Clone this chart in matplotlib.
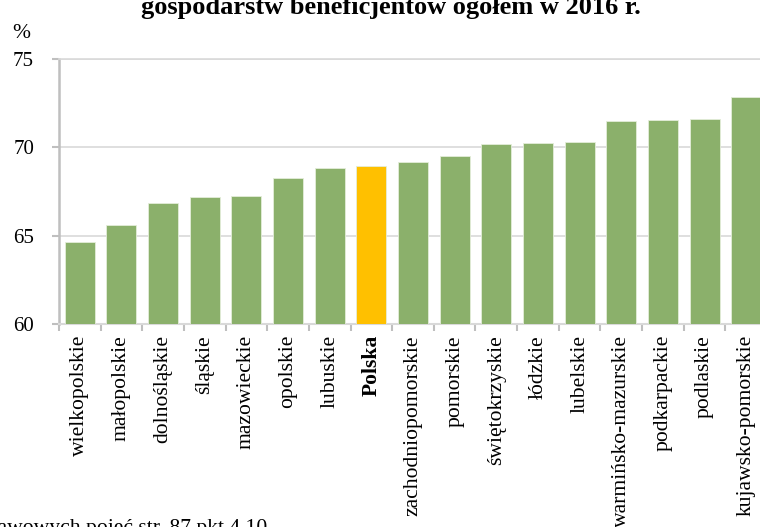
import matplotlib
matplotlib.use("Agg")
import matplotlib.pyplot as plt
import numpy as np

plt.rcParams['font.family'] = ['Liberation Serif', 'DejaVu Serif']

regions = ['wielkopolskie', 'małopolskie', 'dolnośląskie', 'śląskie', 'mazowieckie',
           'opolskie', 'lubuskie', 'Polska', 'zachodniopomorskie', 'pomorskie',
           'świętokrzyskie', 'łódzkie', 'lubelskie', 'warmińsko-mazurskie',
           'podkarpackie', 'podlaskie', 'kujawsko-pomorskie']
values = [64.62, 65.59, 66.83, 67.18, 67.22, 68.28, 68.81, 68.95, 69.17, 69.52,
          70.17, 70.23, 70.31, 71.49, 71.55, 71.58, 72.85]
highlight = 'Polska'

green = '#8BB06B'
yellow = '#FFC000'
grid_c = '#D9D9D9'
axis_c = '#BFBFBF'

W, H = 760, 527
fig = plt.figure(figsize=(W / 100, H / 100), dpi=100)
ax = fig.add_axes([59 / W, 1 - 324 / H, 708 / W, 265 / H])

x = np.arange(len(regions))
colors = [yellow if r == highlight else green for r in regions]
ax.bar(x, [v - 60 for v in values], bottom=60, width=0.72, color=colors,
       edgecolor='#E4EDDA', linewidth=0.6, zorder=3)

ax.set_ylim(60, 75)
ax.set_xlim(-0.5, len(regions) - 0.5)
ax.set_yticks([60, 65, 70, 75])
ax.yaxis.grid(True, color=grid_c, linewidth=1.2, zorder=0)

ax.spines['right'].set_visible(False)
ax.spines['top'].set_color(grid_c)
ax.spines['top'].set_linewidth(1.2)
ax.spines['left'].set_color(axis_c)
ax.spines['left'].set_linewidth(1.8)
ax.spines['bottom'].set_color(grid_c)
ax.spines['bottom'].set_linewidth(1.5)

ax.tick_params(axis='y', length=5, width=1.5, color=axis_c, pad=13, labelsize=15)
ax.set_xticks(x)
ax.set_xticks(np.arange(len(regions) + 1) - 0.5, minor=True)
ax.tick_params(axis='x', which='major', length=0, pad=8, labelsize=15.6)
ax.tick_params(axis='x', which='minor', length=5, width=1.5, color=axis_c)
ax.set_xticklabels(regions, rotation=90)
for lab in ax.get_xticklabels():
    if lab.get_text() == highlight:
        lab.set_fontweight('bold')

# title is cut by the top edge in the source image
fig.text(391 / W, 1 - 14 / H, 'gospodarstw beneficjentów ogółem w 2016 r.',
         ha='center', va='baseline', fontsize=19, fontweight='bold')
fig.text(21 / W, 1 - 38 / H, '%', ha='center', va='baseline', fontsize=15.5)
fig.text(267 / W, 1 - 519 / H, 'Objaśnienie podstawowych pojęć str. 87 pkt 4.10',
         ha='right', va='top', fontsize=15.6)

fig.savefig('out.png', dpi=100)
